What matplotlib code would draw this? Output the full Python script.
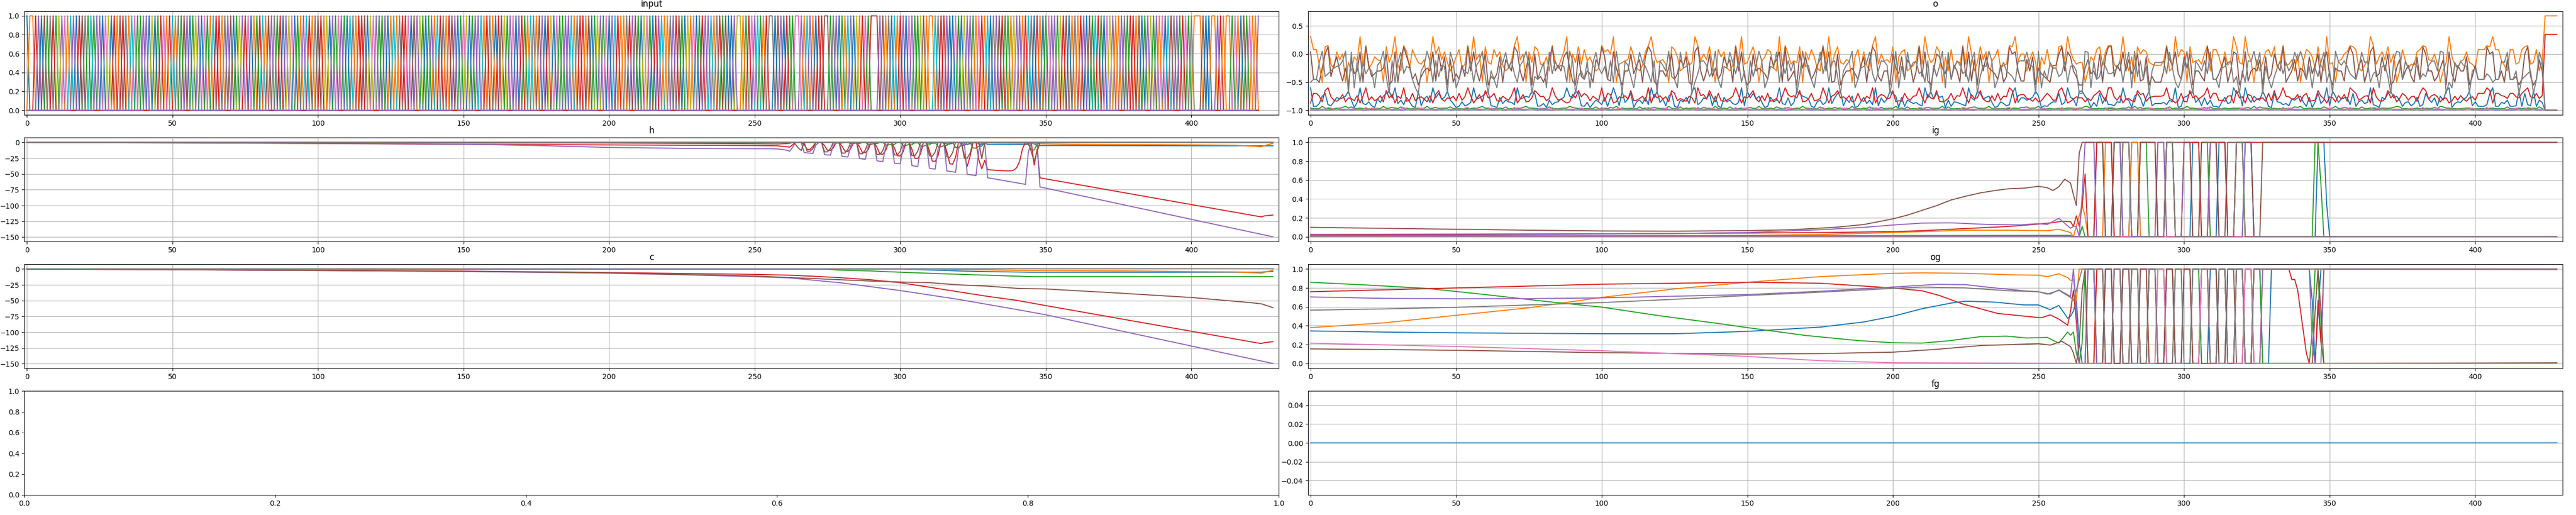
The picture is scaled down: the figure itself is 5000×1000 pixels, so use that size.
import matplotlib
matplotlib.use("Agg")
import matplotlib.pyplot as plt

# ---------------- series names / colours (tab10 order) ----------------
names = ["blue", "orange", "green", "red", "purple", "brown", "pink", "gray"]
colors = ["C0", "C1", "C2", "C3", "C4", "C5", "C6", "C7"]

# ---------------- input: one-hot sequence over 15 symbols (hex digit per step) ----------------
input_seq = ("01134a5c7d2846b9e035" "7c92e4a6803b5d7196c2" "4e08a2d6b3917c5e0284"
             "a6c19d3b7e50284d6a1c" "39b5e72d0486ac1e93b7" "5d1804c6e2a97b3d5086"
             "e2c4a19b7d3605e82ac4" "19d7b35e0c68a24e91d7" "b0358ce6a4d2197b5e03"
             "8a6c2e4917d3b50c8e26" "a49d1b73e5c0862ad49b" "17e35c08b6a2d4e9173c"
             "5a0e88b2d649c1377a5e" "0d2c664b9e1a3d55c7e0" "2b94a81d6c333e5b7091"
             "d4a6e2c85b1197d3e0a6" "c08e42b6d19a7e53c2b8" "4e1d97a3b0c64e28d5a1"
             "7b3e05c9d2a684b1e7c3" "d15a2e8c4b60937e2d6c" "71115a011e3b11c61a5c"
             "61be")
n_symbols = 15

# ---------------- o: level of each unit for each input symbol, plus the tail steps ----------------
o_levels = {
    "blue":   [-0.60, -0.93, -0.80, -0.88, -0.75, -0.90, -0.66, -0.85, -0.78, -0.95, -0.70, -0.82, -0.92, -0.77, -0.86],
    "orange": [0.31, 0.08, -0.10, -0.20, -0.50, 0.15, -0.15, -0.25, 0.00, -0.05, 0.13, -0.30, -0.18, 0.04, -0.12],
    "green":  [-0.96, -0.97, -0.965, -0.97, -0.93, -0.97, -0.96, -0.975, -0.95, -0.97, -0.965, -0.94, -0.97, -0.96, -0.97],
    "red":    [-0.87, -0.70, -0.80, -0.75, -0.85, -0.60, -0.78, -0.82, -0.72, -0.83, -0.65, -0.79, -0.76, -0.84, -0.74],
    "purple": [-0.99, -0.995, -0.99, -0.995, -0.99, -0.995, -0.985, -0.99, -0.995, -0.99, -0.99, -0.995, -0.99, -0.985, -0.99],
    "brown":  [0.04, -0.45, -0.30, -0.50, -0.25, 0.13, -0.55, -0.20, -0.48, -0.35, 0.00, -0.10, -0.40, -0.05, -0.30],
    "pink":   [-0.98, -0.98, -0.975, -0.985, -0.98, -0.95, -0.98, -0.985, -0.98, -0.975, -0.985, -0.98, -0.96, -0.98, -0.985],
    "gray":   [-0.50, -0.45, -0.20, -0.15, 0.05, -0.35, -0.70, -0.25, -0.12, -0.60, -0.40, 0.03, -0.30, -0.22, -0.13],
}
o_tail = {
    "blue":   [-1.0, -1.0, -1.0, -1.0, -1.0],
    "orange": [0.68, 0.68, 0.68, 0.68, 0.68],
    "green":  [-0.995, -0.995, -0.995, -0.995, -0.995],
    "red":    [0.35, 0.35, 0.35, 0.35, 0.35],
    "purple": [-1.0, -1.0, -1.0, -1.0, -1.0],
    "brown":  [-1.0, -1.0, -1.0, -1.0, -1.0],
    "pink":   [-0.995, -0.995, -0.995, -0.995, -0.995],
    "gray":   [-1.0, -1.0, -1.0, -1.0, -1.0],
}

# ---------------- h ----------------
h_pre = {
    "blue":   [(0, 0), (296, 0)],
    "orange": [(0, 0), (320, 0), (330, -1), (345, -2), (352, -2.5), (360, -3), (380, -3.5),
               (400, -4), (415, -4.5), (424, -7), (426, -4), (428, -1.5)],
    "green":  [(0, 0), (261, 0)],
    "red":    [(0, 0), (50, -0.6), (100, -1.8), (150, -3), (200, -4), (230, -4.6), (250, -5),
               (258, -5.5), (261, -7)],
    "purple": [(0, 0), (50, -0.8), (100, -1.5), (150, -2.8), (175, -5), (200, -8), (225, -9.4),
               (250, -10), (255, -10), (258, -10.5), (260, -11.5), (261, -12.5)],
    "brown":  [(0, 0), (100, -0.4), (200, -1), (250, -2.2), (258, -2.5), (261, -2)],
    "pink":   [(0, 0), (428, 0)],
    "gray":   [(0, 0), (428, 0)],
}
h_seg_start = {"blue": 297, "green": 262, "red": 262, "purple": 262, "brown": 262}
h_seg = {
    "blue": [0, 0, 0, 0, 0, 0,
             -0.5, -1, -1, -0.5, 0, 0,
             -1, -1.5, -1.5, -1, 0, 0,
             -1.5, -2.5, -2.5, -1.5, 0, 0,
             -2, -3, -3, -2, 0, 0,
             -2.5, -3.5, 0,
             -3.5, -3.5, -3.5, -3.5, -3.5, -3.5, -3.5, -3.5, -3.5, -3.5, -3.5, -3.5, -3.5, -3.5,
             -3, 0, -2.5,
             -5, -5, -5, -5, -5, -5],
    "green": [0, 0, 0, 0, 0, 0,
              0, 0, 0, 0, 0, 0,
              0, 0, 0, -1, -1, -1,
              -1, 0, 0, -2, -2, -1,
              -2, 0, 0, -3, -3, -2,
              -2, 0, 0, -4, -4, -3,
              -3, 0, 0, -5, -5, -3,
              -4, 0, 0, -6, -6, -4,
              -4, 0, 0, -7, -7, -5,
              -5, 0, 0, -8, -8, -5,
              -5, 0, 0, -9, -9, -6,
              -6, 0,
              0, 0, 0, 0, 0, 0, 0, 0, 0, 0, 0, 0, 0, 0,
              -3, -12, -12, -3, 0, 0, 0, 0, 0],
    "red": [-7.5, -4, 0, 0, 0,
            -3.6, -11, -11.2, -6.4, 0, 0, 0,
            -5.4, -12.5, -12.8, -8.7, 0, 0,
            -6.1, -14, -14.3, -9.8, 0, 0,
            -6.9, -16, -16.4, -11.2, 0, 0,
            -7.9, -18.4, -18.8, -12.8, 0, 0,
            -9.1, -21, -21.6, -14.8, 0, 0,
            -10.8, -25, -25.8, -17.7, 0, 0,
            -12.8, -29.5, -30.3, -20.7, 0, 0,
            -14.7, -33.8, -34.6, -23.6, 0, 0,
            -20.8, -38, -21.4, 0, 0,
            -27.5, -42, -28.5,
            -43, -43.5, -44, -44.3, -44.6, -44.8, -45, -45, -45, -44, -40, -30, -10, 0,
            0, 0, -36, -11, -56, -57, -57.8, -58.6, -59.4],
    "purple": [-14, -8, -0.5, -0.5, -0.5,
               -16.2, -16.6, -17.1, -17.5, -4, -0.5, -0.5,
               -19.3, -19.8, -20.2, -4.5, -0.5, -0.5,
               -22, -22.6, -23.2, -5.2, -0.5, -0.5,
               -25.6, -26.2, -26.8, -6, -0.5, -0.5,
               -29.2, -29.8, -30.4, -6.8, -0.5, -0.5,
               -32.8, -33.4, -34, -7.6, -0.5, -0.5,
               -36.8, -37.5, -38.2, -8.6, -0.5, -0.5,
               -41, -41.7, -42.4, -9.5, -0.5, -0.5,
               -45.2, -45.9, -46.6, -47.3, -10.6, -0.5, -0.5,
               -50.4, -51.2, -52, -52.8, -11.8, -0.5, -0.5,
               -56, -56.8, -57.6, -58.4, -59.2, -60, -60.8, -61.6, -62.4, -63.2, -64, -64.8, -65.7, -66.5,
               -15, -0.5, -0.5, -0.5,
               -70.7, -71.5, -72.4, -73.4, -74.4],
    "brown": [-1.5, 0, -3, -9, -13,
              0, -14, -14, -10, 0, 0,
              0, -15, -15, -10, 0, 0,
              0, -17, -17, -11, 0, 0,
              0, -18, -18, -12, 0, 0,
              0, -19, -19, -13, 0, 0,
              0, -20, -20, -14, 0, 0,
              0, -21, -21, -14, 0, 0,
              0, -21, -22, -15, 0, 0,
              0, -23, -24, -16, 0, 0,
              0, -25, -25, -17, 0, 0,
              0, -26, 0,
              0, 0, 0, 0, 0, 0, 0, 0, 0, 0, 0, 0, 0, 0,
              0, -15, -30, -15, 0, 0, 0, 0, 0],
}
h_post = {
    "blue": [(424, -5.5), (428, -5.5)],
    "green": [(428, 0)],
    "red": [(424, -118), (425, -116.5), (428, -115)],
    "purple": [(428, -149.5)],
    "brown": [(428, 0)],
}

# ---------------- c ----------------
c_points = {
    "blue":   [(0, 0), (300, 0), (305, -0.5), (310, -1.5), (315, -2), (320, -3), (330, -4), (345, -5),
               (424, -5), (426, -4), (428, -3.5)],
    "orange": [(0, 0), (300, 0), (320, -0.5), (340, -2), (360, -2.5), (380, -3), (400, -4), (415, -4.5),
               (424, -6.5), (426, -4), (428, -1.5)],
    "green":  [(0, 0), (275, 0), (278, -1.5), (290, -3), (300, -5), (315, -7.5), (325, -9), (345, -12), (428, -12)],
    "red":    [(0, 0), (50, -1), (100, -2), (150, -3.2), (200, -5.5), (225, -7), (250, -8.4), (262, -9.7),
               (270, -11.3), (280, -13.8), (290, -17), (300, -21.6), (310, -28.7), (320, -36), (330, -43.2),
               (340, -49.5), (349, -57), (424, -118), (425, -116.5), (428, -115)],
    "purple": [(0, 0), (50, -0.8), (100, -2.2), (150, -3.8), (200, -6.5), (225, -9), (250, -12), (262, -14),
               (270, -17.5), (280, -22), (290, -28), (300, -34), (310, -41), (320, -48), (330, -56),
               (340, -64), (350, -72.4), (428, -149.5)],
    "brown":  [(0, 0), (50, -1), (100, -2.2), (150, -3.5), (200, -6), (225, -8.5), (250, -11), (270, -15),
               (280, -17), (290, -19), (300, -20.5), (310, -21.5), (320, -25), (330, -27), (340, -30.5),
               (350, -31.5), (375, -38), (400, -45), (420, -53), (424, -55), (428, -61)],
    "pink":   [(0, 0), (428, 0)],
    "gray":   [(0, 0), (428, 0)],
}

# ---------------- ig (levels 0-9 per step from t=262, 9 = 1.0) ----------------
ig_pre = {
    "blue":   [(0, 0.004), (261, 0.004)],
    "orange": [(0, 0.005), (50, 0.006), (100, 0.008), (150, 0.015), (175, 0.025), (200, 0.045), (215, 0.06),
               (225, 0.07), (240, 0.07), (250, 0.066), (253, 0.065), (257, 0.08), (261, 0.045)],
    "green":  [(0, 0.012), (150, 0.012), (200, 0.013), (250, 0.015), (261, 0.015)],
    "red":    [(0, 0.025), (50, 0.028), (100, 0.032), (150, 0.04), (175, 0.045), (200, 0.055), (210, 0.065),
               (220, 0.08), (230, 0.095), (240, 0.11), (250, 0.135), (255, 0.15), (258, 0.165), (261, 0.16)],
    "purple": [(0, 0.02), (50, 0.02), (100, 0.03), (125, 0.035), (150, 0.045), (175, 0.075), (190, 0.1),
               (200, 0.125), (210, 0.145), (220, 0.148), (233, 0.13), (244, 0.127), (250, 0.14), (253, 0.13),
               (257, 0.196), (261, 0.09)],
    "brown":  [(0, 0.10), (25, 0.09), (50, 0.08), (75, 0.07), (100, 0.062), (125, 0.06), (150, 0.065),
               (165, 0.075), (180, 0.10), (190, 0.13), (200, 0.19), (205, 0.23), (210, 0.28), (215, 0.33),
               (220, 0.39), (225, 0.43), (230, 0.465), (235, 0.49), (240, 0.51), (245, 0.515), (250, 0.535),
               (253, 0.52), (255, 0.49), (257, 0.53), (259, 0.61), (261, 0.57)],
    "pink":   [(0, 0.003), (428, 0.003)],
    "gray":   [(0, 0.008), (261, 0.008)],
}
ig_seg = {
    "blue":   ("00000" "000999000000000999000" "000000999000000999000" "000999000000999000000"
               "0000000000000000" "9993" "000"),
    "orange": ("01232" "000000999000000999000" "000999000000999000000" "999000000999000000000"
               "00000000000000000000000"),
    "green":  ("00010" "000000000999000000999" "000000999000000000999" "000000000999000000000"
               "000000000000000" "9950" "0000"),
    "red":    ("12136" "000999999000999000999" "999000999000999999000" "999999000999999999999"
               "99999999999999999999999"),
    "purple": ("11049" "999000000999000000000" "000999000000999000000" "999000000000999000000"
               "00000000000000000000000"),
    "brown":  ("43899" "999999000999999000999" "999000999999999000999" "999000999999999000999"
               "99999999999999999999999"),
    "gray":   ("00000" "000000000000999000000" "000000999000000000000" "000000000999000000000"
               "00000000000000000000000"),
}
ig_post = {"blue": [(428, 0)], "orange": [(428, 0)], "green": [(428, 0)], "red": [(428, 1.0)],
           "purple": [(428, 0)], "brown": [(428, 1.0)], "gray": [(428, 0.0)]}

# ---------------- og ----------------
og_pre = {
    "blue":   [(0, 0.345), (25, 0.333), (50, 0.325), (75, 0.32), (100, 0.315), (125, 0.315), (150, 0.34),
               (175, 0.385), (190, 0.44), (200, 0.5), (210, 0.58), (220, 0.64), (225, 0.66), (235, 0.65),
               (245, 0.62), (250, 0.62), (254, 0.57), (257, 0.615), (260, 0.48), (261, 0.5)],
    "orange": [(0, 0.38), (25, 0.43), (50, 0.51), (75, 0.59), (100, 0.70), (125, 0.79), (150, 0.86),
               (175, 0.92), (200, 0.955), (210, 0.96), (225, 0.955), (240, 0.94), (250, 0.935), (253, 0.92),
               (257, 0.95), (260, 0.91), (261, 0.88)],
    "green":  [(0, 0.86), (20, 0.83), (40, 0.795), (60, 0.73), (80, 0.66), (100, 0.597), (120, 0.505),
               (140, 0.424), (150, 0.38), (170, 0.297), (188, 0.243), (200, 0.22), (210, 0.216), (219, 0.24),
               (230, 0.284), (239, 0.29), (246, 0.27), (253, 0.276), (257, 0.216), (260, 0.333), (261, 0.3)],
    "red":    [(0, 0.76), (25, 0.78), (50, 0.80), (100, 0.84), (150, 0.86), (175, 0.85), (200, 0.80),
               (210, 0.77), (216, 0.72), (224, 0.63), (230, 0.58), (236, 0.53), (244, 0.505), (251, 0.484),
               (254, 0.515), (257, 0.47), (260, 0.406), (261, 0.55)],
    "purple": [(0, 0.705), (25, 0.69), (50, 0.685), (75, 0.687), (100, 0.695), (150, 0.73), (175, 0.765),
               (200, 0.81), (215, 0.838), (225, 0.835), (235, 0.80), (245, 0.77), (250, 0.76), (254, 0.735),
               (257, 0.78), (261, 0.71)],
    "brown":  [(0, 0.155), (50, 0.14), (100, 0.115), (150, 0.10), (175, 0.105), (200, 0.12), (215, 0.15),
               (230, 0.19), (245, 0.205), (250, 0.21), (254, 0.195), (258, 0.235), (261, 0.18)],
    "pink":   [(0, 0.215), (50, 0.18), (100, 0.135), (150, 0.075), (175, 0.03), (200, 0.008), (250, 0.003),
               (261, 0.002)],
    "gray":   [(0, 0.565), (25, 0.578), (50, 0.595), (75, 0.62), (100, 0.645), (125, 0.68), (150, 0.72),
               (175, 0.755), (200, 0.795), (210, 0.81), (225, 0.80), (240, 0.77), (250, 0.76), (253, 0.735),
               (257, 0.775), (261, 0.70)],
}
og_seg = {
    "blue":   ("56200" "999000999000999999000" "999000999000000999000" "999000999999000999000"
               "99999999999999" "605999999"),
    "orange": ("86999" "000999000999000000999" "000999000999999000999" "000999000000999000999"
               "99999999999999999999999"),
    "green":  ("31029" "999000000999000999000" "999999000999000999000" "000999000999000999000"
               "00000000000000" "399200000"),
    "red":    ("74000" "000999000999000999000" "999000999000999000999" "000999000999000999999"
               "99999998875310" "00" "62" "99999"),
    "purple": ("95000" "999000999000999000999" "999000999000999000999" "000999000999000000999"
               "99999999999999" "2000" "99999"),
    "brown":  ("10279" "000000999000999000999" "000000999000999000999" "999000999000999000000"
               "00000000000000" "059500000"),
    "pink":   ("00000" "000000000999000000000" "000999000000000000999" "000000000000999000000"
               "00000000000000000000000"),
    "gray":   ("67899" "999999000999000999000" "999000000999000999999" "000999000999000999999"
               "99999999999999999999999"),
}
og_post = {"blue": [(428, 1.0)], "orange": [(428, 1.0)], "green": [(428, 0.0)], "red": [(428, 0.995)],
           "purple": [(428, 1.0)], "brown": [(428, 0.008)], "pink": [(428, 0.0)], "gray": [(428, 1.0)]}

# ---------------- fg ----------------
fg_points = [(0, 0.0), (428, 0.0)]

seg_start = 262
x_limits = (-0.85, 430)


def assemble(pre, start, seg, post):
    xs = [p[0] for p in pre] + list(range(start, start + len(seg))) + [p[0] for p in post]
    ys = [p[1] for p in pre] + list(seg) + [p[1] for p in post]
    return xs, ys


def levels(s):
    return [int(ch) / 9.0 for ch in s]


fig = plt.figure(figsize=(50, 10), dpi=100)
W_L, W_R = 0.48692, 0.48700
X_L, X_R = 0.00948, 0.50780
H = 0.2017
bottoms = [0.7767, 0.5310, 0.2850, 0.0390]

ax_in = fig.add_axes([X_L, bottoms[0], W_L, H])
ax_o = fig.add_axes([X_R, bottoms[0], W_R, H])
ax_h = fig.add_axes([X_L, bottoms[1], W_L, H])
ax_ig = fig.add_axes([X_R, bottoms[1], W_R, H])
ax_c = fig.add_axes([X_L, bottoms[2], W_L, H])
ax_og = fig.add_axes([X_R, bottoms[2], W_R, H])
ax_empty = fig.add_axes([X_L, bottoms[3], W_L, H])
ax_fg = fig.add_axes([X_R, bottoms[3], W_R, H])

# input
steps_in = list(range(len(input_seq)))
for k in range(n_symbols):
    ax_in.plot(steps_in, [1.0 if int(ch, 16) == k else 0.0 for ch in input_seq])
ax_in.set_title("input")

# o
steps_out = list(range(len(input_seq) + 5))
for nm, col in zip(names, colors):
    ys = [o_levels[nm][int(ch, 16)] for ch in input_seq] + o_tail[nm]
    ax_o.plot(steps_out, ys, color=col)
ax_o.set_title("o")

# h
for nm, col in zip(names, colors):
    if nm in h_seg:
        xs, ys = assemble(h_pre[nm], h_seg_start[nm], h_seg[nm], h_post[nm])
    else:
        xs, ys = assemble(h_pre[nm], 0, [], [])
    ax_h.plot(xs, ys, color=col)
ax_h.set_title("h")

# c
for nm, col in zip(names, colors):
    xs, ys = assemble(c_points[nm], 0, [], [])
    ax_c.plot(xs, ys, color=col)
ax_c.set_title("c")

# ig
for nm, col in zip(names, colors):
    if nm in ig_seg:
        xs, ys = assemble(ig_pre[nm], seg_start, levels(ig_seg[nm]), ig_post[nm])
    else:
        xs, ys = assemble(ig_pre[nm], 0, [], [])
    ax_ig.plot(xs, ys, color=col)
ax_ig.set_title("ig")

# og
for nm, col in zip(names, colors):
    xs, ys = assemble(og_pre[nm], seg_start, levels(og_seg[nm]), og_post[nm])
    ax_og.plot(xs, ys, color=col)
ax_og.set_title("og")

# fg
xs, ys = assemble(fg_points, 0, [], [])
ax_fg.plot(xs, ys, color="C0")
ax_fg.set_title("fg")

for ax in [ax_in, ax_o, ax_h, ax_ig, ax_c, ax_og, ax_fg]:
    ax.set_xlim(*x_limits)
    ax.grid(True)

fig.savefig("out.png", dpi=100)
